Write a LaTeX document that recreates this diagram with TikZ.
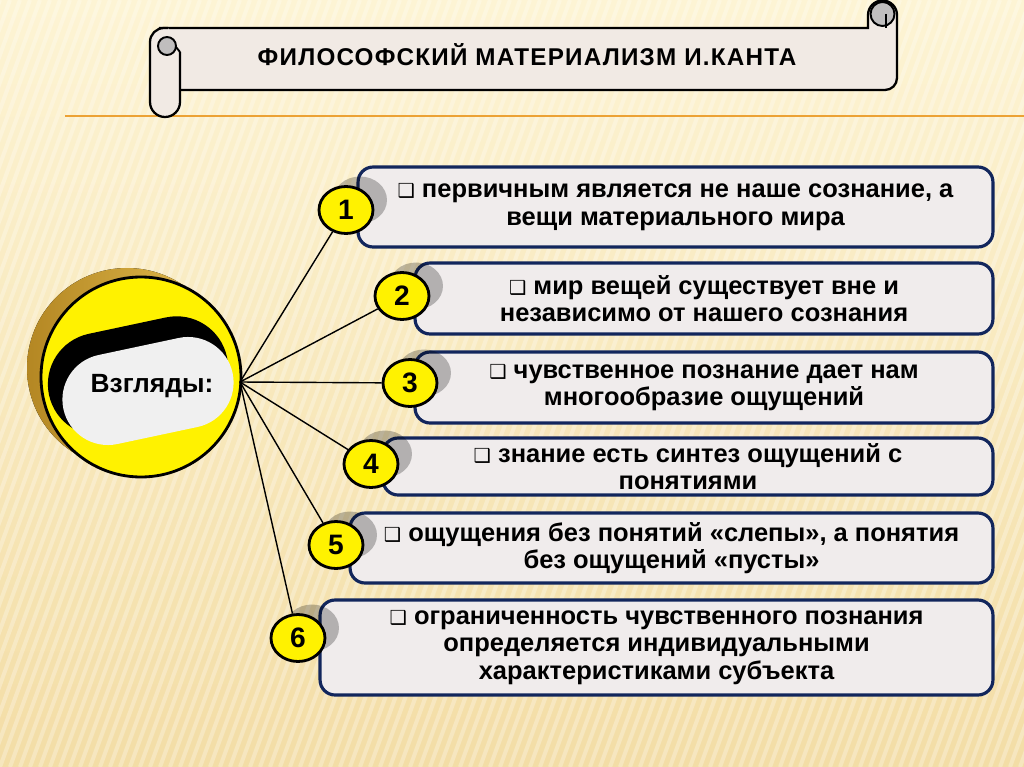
\documentclass[tikz,border=0pt]{standalone}
\usepackage{fontspec}
\setmainfont{Liberation Sans}
\newfontfamily\symb{DejaVu Sans}
\newfontfamily\titlefont[LetterSpace=5]{Liberation Sans}
\usetikzlibrary{shapes.geometric,shadows}
\definecolor{bgtop}{RGB}{253,244,212}
\definecolor{bgbot}{RGB}{243,221,166}
\definecolor{paper}{RGB}{241,234,228}
\definecolor{curlgray}{RGB}{192,190,190}
\definecolor{rulecol}{RGB}{236,162,52}
\definecolor{golddark}{RGB}{180,135,35}
\definecolor{goldlight}{RGB}{228,190,80}
\definecolor{navy}{RGB}{18,38,92}
\definecolor{boxfill}{RGB}{240,236,236}
\newcommand{\bul}{{\symb\fontsize{11}{11}\selectfont ❑}\ }
\tikzset{
  stripe/.style ={white,opacity=0.28,line width=0.08cm},
  scroll/.style ={draw=black,line width=1.3pt,fill=paper},
  curl/.style   ={draw=black,line width=1.1pt,fill=curlgray},
  box/.style    ={draw=navy,line width=1.8pt,fill=boxfill,rounded corners=0.3cm,align=center,
                  inner sep=2pt,font=\bfseries\fontsize{14.5}{15.6}\selectfont},
  num/.style    ={ellipse,draw,line width=1.6pt,fill=yellow,minimum width=1.08cm,minimum height=0.94cm,
                  inner sep=0pt,font=\bfseries\fontsize{16}{16}\selectfont,
                  drop shadow={shadow xshift=0.28cm,shadow yshift=0.2cm,opacity=0.25,fill=black}},
  pill/.style   ={rectangle,minimum width=3.46cm,minimum height=1.82cm,rounded corners=0.91cm,rotate=12},
  spoke/.style  ={black,line width=0.8pt},
}
\begin{document}
\begin{tikzpicture}[x=0.02cm,y=-0.02cm]
  \useasboundingbox (0,0) rectangle (1024,767);
  % background
  \fill[top color=bgtop,bottom color=bgbot] (0,0) rectangle (1024,767);
  \begin{scope}
    \clip (0,0) rectangle (1024,767);
    \foreach \x in {-300,-290,...,1030}
      \draw[stripe] (\x,767) -- ++(280,-767);
  \end{scope}
  \draw[rulecol,line width=1.4pt] (65,116) -- (1024,116);
  % title scroll
  \draw[scroll] (160,28) -- (868,28) -- (868,15) arc(180:360:14.5) -- (897,78) arc(0:90:12) -- (160,90) -- cycle;
  \draw[curl] (882.5,14) circle (12);
  \draw[black,line width=1.1pt] (886,14) -- (886,28);
  \draw[scroll] (180,52) -- (180,102) arc(0:180:15) -- (150,42) arc(180:270:14) -- (168,28);
  \draw[curl] (167,46) circle (9);
  \draw[black,line width=1.1pt] (176,47) -- (180,52);
  \node[font=\titlefont\bfseries\fontsize{13.8}{15}\selectfont] (title) at (527,55) {ФИЛОСОФСКИЙ МАТЕРИАЛИЗМ И.КАНТА};
  % central disc
  \fill[left color=golddark,right color=goldlight] (127,368) circle (100);
  \draw[fill=yellow,line width=1.6pt] (141,377) circle (100);
  \node[pill,fill=black,minimum width=3.64cm,minimum height=2.06cm,rounded corners=1.03cm] (pillback) at (138,376) {};
  \node[pill,fill=gray!12] (pill) at (148,391) {};
  \node[font=\bfseries\fontsize{15}{15}\selectfont] (view) at (152,386) {Взгляды:};
  \coordinate (hub) at (240,382);
  % boxes
  \node[box,minimum width=12.7cm,minimum height=1.6cm] (b1) at (675.5,207)
    {\bul первичным является не наше сознание, а\\вещи материального мира};
  \node[box,minimum width=11.56cm,minimum height=1.42cm] (b2) at (704,298.5)
    {\bul мир вещей существует вне и\\независимо от нашего сознания};
  \node[box,minimum width=11.56cm,minimum height=1.42cm] (b3) at (704,387.5)
    {\bul чувственное познание дает нам\\многообразие ощущений};
  \node[box,minimum width=12.2cm,minimum height=1.14cm] (b4) at (688,466.5)
    {\bul знание есть синтез ощущений с\\понятиями};
  \node[box,minimum width=12.86cm,minimum height=1.4cm] (b5) at (671.5,548)
    {\bul ощущения без понятий «слепы», а понятия\\без ощущений «пусты»};
  \node[box,minimum width=13.46cm,minimum height=1.9cm] (b6) at (656.5,647.5)
    {\bul ограниченность чувственного познания\\определяется индивидуальными\\характеристиками субъекта};
  % numbers
  \node[num] (n1) at (346,210) {1};
  \node[num] (n2) at (402,296) {2};
  \node[num] (n3) at (410,383) {3};
  \node[num] (n4) at (371,464) {4};
  \node[num] (n5) at (336,545) {5};
  \node[num] (n6) at (298,638) {6};
  % spokes
  \foreach \i in {1,...,6}
    \draw[spoke] (hub) -- (n\i);
\end{tikzpicture}
\end{document}
